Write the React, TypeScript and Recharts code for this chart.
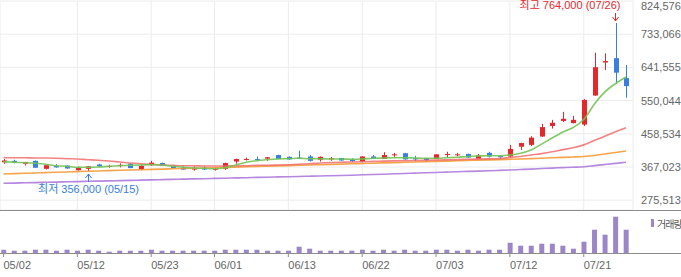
import {
  ComposedChart,
  BarChart,
  Bar,
  Line,
  XAxis,
  YAxis,
  CartesianGrid,
  ReferenceDot,
} from 'recharts'

// trading days, 2023
const dates = [
  '05/02', '05/03', '05/04', '05/08', '05/09', '05/10', '05/11', '05/12', '05/15', '05/16',
  '05/17', '05/18', '05/19', '05/22', '05/23', '05/24', '05/25', '05/26', '05/30', '05/31',
  '06/01', '06/02', '06/05', '06/07', '06/08', '06/09', '06/12', '06/13', '06/14', '06/15',
  '06/16', '06/19', '06/20', '06/21', '06/22', '06/23', '06/26', '06/27', '06/28', '06/29',
  '06/30', '07/03', '07/04', '07/05', '07/06', '07/07', '07/10', '07/11', '07/12', '07/13',
  '07/14', '07/17', '07/18', '07/19', '07/20', '07/21', '07/24', '07/25', '07/26', '07/27',
]

const open = [
  380000, 384000, 376000, 384000, 362000, 370000, 371000, 358000, 362000, 374000,
  369000, 372000, 376000, 361000, 372000, 378000, 371000, 365000, 360000, 365000,
  360000, 362000, 382000, 387000, 389000, 390000, 400000, 395000, 393000, 396000,
  387000, 388000, 392000, 388000, 382000, 396000, 389000, 400000, 405000, 391000,
  392000, 389000, 400000, 400000, 403000, 390000, 406000, 397000, 396000, 423000,
  428000, 451000, 480000, 494000, 488000, 484000, 564000, 655000, 667000, 612000,
]
const high = [
  389000, 387000, 381000, 385000, 373000, 375000, 372000, 368000, 370000, 376000,
  373000, 377000, 377000, 373000, 384000, 379000, 372000, 369000, 369000, 369000,
  365000, 379000, 390000, 393000, 396000, 394000, 401000, 396000, 412000, 400000,
  396000, 395000, 392000, 391000, 397000, 400000, 408000, 406000, 406000, 398000,
  392000, 402000, 409000, 406000, 404000, 403000, 409000, 400000, 428000, 434000,
  452000, 486000, 497000, 519000, 508000, 554000, 682000, 680000, 764000, 648000,
]
const low = [
  376000, 377000, 371000, 365000, 360000, 365000, 362000, 357000, 356000, 368000,
  365000, 366000, 364000, 358000, 370000, 370000, 363000, 359000, 357000, 359000,
  357000, 359000, 376000, 385000, 383000, 384000, 389000, 387000, 389000, 382000,
  382000, 384000, 384000, 381000, 380000, 389000, 389000, 395000, 387000, 383000,
  382000, 389000, 394000, 397000, 392000, 390000, 393000, 390000, 393000, 414000,
  425000, 450000, 473000, 491000, 487000, 480000, 563000, 634000, 596000, 558000,
]
const close = [
  385000, 380000, 381000, 365000, 372000, 366000, 363000, 365000, 369000, 369000,
  370000, 373000, 364000, 370000, 379000, 371000, 364000, 360000, 365000, 360000,
  362000, 378000, 389000, 389000, 387000, 394000, 389000, 388000, 390000, 384000,
  395000, 391000, 385000, 383000, 396000, 389000, 400000, 402000, 388000, 388000,
  386000, 402000, 403000, 402000, 393000, 399000, 396000, 394000, 417000, 433000,
  448000, 477000, 489000, 500000, 497000, 552000, 642000, 659000, 627000, 590000,
]
const volume = [
  33, 23, 23, 33, 33, 23, 33, 23, 33, 23,
  13, 23, 23, 23, 33, 23, 23, 23, 23, 23,
  23, 33, 33, 33, 33, 23, 23, 23, 63, 43,
  23, 23, 23, 23, 33, 23, 33, 23, 33, 23,
  23, 33, 33, 23, 33, 23, 33, 33, 103, 73,
  73, 93, 93, 73, 43, 113, 233, 183, 363, 233,
]

const ma5 = [
  381600, 380000, 378900, 377200, 374500, 370600, 369000, 366200, 366200, 367000,
  369000, 370600, 371700, 372500, 373400, 372500, 369000, 366200, 364300, 363400,
  362300, 365100, 372500, 380000, 384400, 387100, 389100, 389900, 391000, 389900,
  389900, 389100, 389100, 388300, 389100, 391000, 391800, 392700, 392700, 391800,
  391000, 391000, 392700, 393800, 396000, 397300, 398200, 398200, 400100, 404800,
  413900, 430000, 447000, 463000, 476000, 498000, 540000, 574000, 597000, 615000,
]
const ma20 = [
  392700, 392700, 392700, 391800, 391800, 391000, 389900, 389100, 387200, 385500,
  383600, 380800, 378100, 376100, 374500, 372500, 371700, 370600, 370600, 369800,
  369800, 369800, 370600, 370600, 371700, 371700, 372500, 373400, 374500, 376100,
  378100, 379400, 380300, 380800, 381600, 382500, 383300, 383800, 384400, 384900,
  385500, 386000, 386600, 387400, 388300, 388800, 389400, 390200, 393000, 396000,
  400000, 404000, 409000, 415000, 420000, 428000, 440000, 452000, 464000, 475000,
]
const ma60 = [
  347700, 348800, 349700, 350500, 351600, 352400, 353300, 354400, 355200, 356000,
  357100, 358000, 358800, 359600, 360400, 361200, 362100, 362900, 363700, 364300,
  365100, 366000, 366800, 367600, 368400, 369300, 370100, 370900, 371700, 372500,
  373400, 374200, 375000, 375800, 376700, 377500, 378300, 379100, 380000, 380800,
  381600, 382500, 383300, 384100, 384900, 385800, 386600, 387400, 388300, 389100,
  390200, 391300, 392400, 393500, 394600, 396000, 398700, 402900, 407000, 411100,
]
const ma120 = [
  322100, 322700, 323500, 324000, 324900, 325400, 326200, 326800, 327600, 328200,
  328700, 329500, 330100, 330900, 331500, 332300, 332900, 333700, 334200, 334800,
  335600, 336200, 337000, 337500, 338400, 338900, 339700, 340300, 340800, 341700,
  342200, 343000, 343600, 344400, 345500, 346300, 347200, 348300, 349100, 350200,
  351000, 351900, 353000, 353800, 354900, 355700, 356600, 357700, 358800, 360200,
  361300, 362700, 364000, 365400, 366500, 367900, 370900, 373900, 376900, 380000,
]

const tickDates = ['05/02', '05/12', '05/23', '06/01', '06/13', '06/22', '07/03', '07/12', '07/21']
const priceTicks = [275513, 367023, 458534, 550044, 641555, 733066, 824576]

const RED = '#e3282b'
const BLUE = '#3a7ee0'
const GRID = '#ececec'
const TEXT = '#666'

const rows = dates.map((date, i) => ({
  i,
  date,
  open: open[i],
  high: high[i],
  low: low[i],
  close: close[i],
  volume: volume[i],
  ma5: ma5[i],
  ma20: ma20[i],
  ma60: ma60[i],
  ma120: ma120[i],
}))

const xTicks = tickDates.map((d) => dates.indexOf(d))
const xDomain = [-0.332, 59.668]

const maxIdx = high.indexOf(Math.max(...high))
const minIdx = low.indexOf(Math.min(...low))
const fmt = (v: number) => v.toLocaleString('en-US')

function Candle(props: any) {
  const { x, y, width, height, payload } = props
  if (!payload) return null
  const cx = Math.round(x + width / 2)
  const top = Math.min(y, y + height)
  const span = Math.abs(height)
  const range = payload.high - payload.low || 1
  const toY = (v: number) => top + ((payload.high - v) / range) * span
  const up = payload.close >= payload.open
  const color = up ? RED : BLUE
  const yo = toY(payload.open)
  const yc = toY(payload.close)
  const bodyTop = Math.min(yo, yc)
  const bodyH = Math.max(1, Math.abs(yo - yc))
  return (
    <g>
      <line x1={cx + 0.5} x2={cx + 0.5} y1={top} y2={top + span} stroke={color} strokeWidth={1} />
      <rect x={cx - 2} y={bodyTop} width={5} height={bodyH} fill={color} />
    </g>
  )
}

function HighMark(props: any) {
  const { cx, cy } = props
  const x = Math.round(cx) + 0.5
  return (
    <g>
      <line x1={x} x2={x} y1={cy - 10} y2={cy - 2} stroke={RED} />
      <polyline points={`${x - 3},${cy - 6} ${x},${cy - 2} ${x + 3},${cy - 6}`} fill="none" stroke={RED} />
      <text x={x + 5} y={cy - 13.5} textAnchor="end" fill={RED} fontSize={11}>
        {`최고 ${fmt(high[maxIdx])} (${dates[maxIdx]})`}
      </text>
    </g>
  )
}

function LowMark(props: any) {
  const { cx, cy } = props
  const x = Math.round(cx) + 0.5
  return (
    <g>
      <line x1={x} x2={x} y1={cy + 3} y2={cy + 11} stroke={BLUE} />
      <polyline points={`${x - 3},${cy + 7} ${x},${cy + 3} ${x + 3},${cy + 7}`} fill="none" stroke={BLUE} />
      <text x={x} y={cy + 22} textAnchor="middle" fill={BLUE} fontSize={11}>
        {`최저 ${fmt(low[minIdx])} (${dates[minIdx]})`}
      </text>
    </g>
  )
}

function DateTick(props: any) {
  const { x, y, payload } = props
  return (
    <text x={x} y={y + 10} textAnchor="start" fill={TEXT} fontSize={11}>
      {dates[payload.value]}
    </text>
  )
}

export default function App() {
  return (
    <div
      style={{
        position: 'absolute',
        left: 0,
        top: 0,
        width: 681,
        height: 277,
        background: '#fff',
        overflow: 'hidden',
        fontFamily: "'Liberation Sans', 'Noto Sans CJK KR', sans-serif",
      }}
    >
      <div style={{ position: 'absolute', left: 0, top: 0 }}>
        <ComposedChart width={681} height={210} data={rows} margin={{ top: 1, right: 0, left: 0, bottom: 0 }}>
          <CartesianGrid stroke={GRID} strokeWidth={1} />
          <XAxis type="number" dataKey="i" domain={xDomain} ticks={xTicks} allowDataOverflow hide />
          <YAxis
            orientation="right"
            width={48}
            domain={[248509, 824576]}
            ticks={priceTicks}
            allowDataOverflow
            axisLine={false}
            tickLine={false}
            tick={{ fill: TEXT, fontSize: 11, textAnchor: 'start' }}
            tickFormatter={fmt}
          />
          <Line dataKey="ma120" type="monotone" stroke="#a872d8" strokeWidth={1.6} strokeOpacity={0.85} dot={false} isAnimationActive={false} />
          <Line dataKey="ma60" type="monotone" stroke="#f5942a" strokeWidth={1.6} strokeOpacity={0.85} dot={false} isAnimationActive={false} />
          <Line dataKey="ma20" type="monotone" stroke="#ef6464" strokeWidth={1.6} strokeOpacity={0.8} dot={false} isAnimationActive={false} />
          <Line dataKey="ma5" type="monotone" stroke="#72c455" strokeWidth={1.6} strokeOpacity={0.9} dot={false} isAnimationActive={false} />
          <Bar dataKey={(d: any) => [d.low, d.high]} barSize={5} shape={Candle} isAnimationActive={false} />
          <ReferenceDot x={maxIdx} y={high[maxIdx]} r={0} ifOverflow="visible" shape={HighMark} />
          <ReferenceDot x={minIdx} y={low[minIdx]} r={0} ifOverflow="visible" shape={LowMark} />
        </ComposedChart>
      </div>

      <div style={{ position: 'absolute', left: 0, top: 210, width: 681, height: 1, background: '#8c8c8c' }} />

      <div style={{ position: 'absolute', left: 0, top: 211 }}>
        <BarChart width={681} height={66} data={rows} margin={{ top: 2, right: 0, left: 0, bottom: 0 }}>
          <XAxis
            type="number"
            dataKey="i"
            domain={xDomain}
            ticks={xTicks}
            allowDataOverflow
            height={24}
            axisLine={false}
            tickLine={{ stroke: '#8c8c8c' }}
            tickSize={4}
            tick={DateTick}
            interval={0}
          />
          <YAxis orientation="right" width={48} domain={[0, 400]} tick={false} axisLine={false} tickLine={false} />
          <Bar dataKey="volume" fill="#9b87c7" barSize={5} isAnimationActive={false} />
        </BarChart>
      </div>

      <div style={{ position: 'absolute', left: 0, top: 253, width: 681, height: 1, background: '#8c8c8c' }} />

      <div
        style={{
          position: 'absolute',
          left: 651,
          top: 216,
          height: 14,
          display: 'flex',
          alignItems: 'center',
          fontSize: 10,
          letterSpacing: -1,
          color: '#555',
          whiteSpace: 'nowrap',
        }}
      >
        <span style={{ display: 'inline-block', width: 3, height: 8, background: '#9b87c7', marginRight: 3 }} />
        거래량
      </div>
    </div>
  )
}
